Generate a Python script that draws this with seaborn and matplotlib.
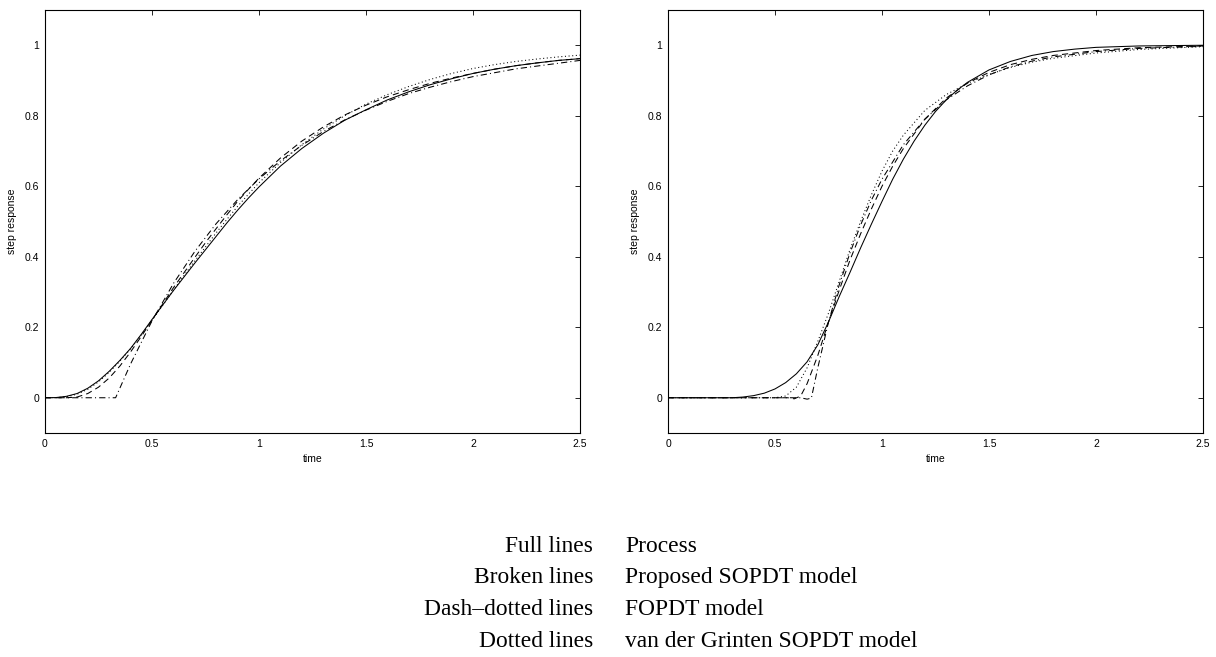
import numpy as np
import pandas as pd
import matplotlib
matplotlib.use("Agg")
import matplotlib.pyplot as plt
import seaborn as sns

# ---------------- data ----------------
# Left panel
t_left = [0, 0.05, 0.1, 0.15, 0.2, 0.25, 0.3, 0.35, 0.4, 0.45, 0.5, 0.55, 0.6, 0.65,
          0.7, 0.75, 0.8, 0.85, 0.9, 0.95, 1.0, 1.1, 1.2, 1.3, 1.4, 1.5, 1.6, 1.7,
          1.8, 1.9, 2.0, 2.1, 2.2, 2.3, 2.4, 2.5]
proc_left = [0, 0.0005, 0.004, 0.012, 0.027, 0.048, 0.075, 0.106, 0.14, 0.18, 0.222, 0.263,
             0.304, 0.343, 0.382, 0.42, 0.458, 0.496, 0.532, 0.566, 0.598, 0.657, 0.707,
             0.75, 0.787, 0.817, 0.845, 0.868, 0.888, 0.905, 0.92, 0.932, 0.942, 0.95,
             0.957, 0.962]
sopdt_left = [0, 0, 0, 0.002, 0.012, 0.03, 0.056, 0.09, 0.13, 0.174, 0.22, 0.266,
              0.312, 0.355, 0.398, 0.44, 0.48, 0.519, 0.557, 0.591, 0.623, 0.68, 0.728,
              0.768, 0.802, 0.83, 0.854, 0.874, 0.892, 0.907, 0.92, 0.932, 0.942, 0.95,
              0.957, 0.962]
t_fopdt_left = [0, 0.33, 0.4, 0.5, 0.6, 0.7, 0.8, 0.9, 1.0, 1.1, 1.2, 1.3, 1.4, 1.5,
                1.6, 1.7, 1.8, 1.9, 2.0, 2.2, 2.5]
fopdt_left = [0, 0, 0.096, 0.218, 0.324, 0.415, 0.494, 0.562, 0.621, 0.672, 0.716,
              0.755, 0.788, 0.816, 0.841, 0.863, 0.881, 0.897, 0.911, 0.933, 0.957]
vdg_left = [0, 0.0003, 0.003, 0.01, 0.024, 0.045, 0.072, 0.104, 0.139, 0.178, 0.22, 0.262,
            0.305, 0.347, 0.388, 0.428, 0.468, 0.506, 0.543, 0.577, 0.61, 0.667, 0.718,
            0.762, 0.8, 0.833, 0.86, 0.883, 0.903, 0.92, 0.934, 0.945, 0.954, 0.961,
            0.967, 0.972]

# Right panel
t_proc_right = [0, 0.3, 0.35, 0.4, 0.45, 0.5, 0.55, 0.6, 0.65, 0.7, 0.75, 0.8, 0.85, 0.9,
                0.95, 1.0, 1.05, 1.1, 1.15, 1.2, 1.25, 1.3, 1.35, 1.4, 1.5, 1.6, 1.7,
                1.8, 1.9, 2.0, 2.2, 2.5]
proc_right = [0, 0, 0.002, 0.006, 0.013, 0.025, 0.043, 0.068, 0.102, 0.15, 0.215, 0.287,
              0.355, 0.425, 0.492, 0.557, 0.62, 0.677, 0.728, 0.773, 0.812, 0.845, 0.872,
              0.895, 0.93, 0.954, 0.971, 0.982, 0.989, 0.994, 0.998, 1.0]
t_sopdt_right = [0, 0.56, 0.59, 0.62, 0.65, 0.7, 0.75, 0.8, 0.85, 0.9, 0.95, 1.0, 1.05,
                 1.1, 1.2, 1.3, 1.4, 1.5, 1.6, 1.7, 1.8, 2.0, 2.2, 2.5]
sopdt_right = [0, 0, -0.003, 0.005, 0.04, 0.12, 0.215, 0.305, 0.39, 0.465, 0.535, 0.6,
               0.657, 0.707, 0.79, 0.85, 0.893, 0.923, 0.945, 0.96, 0.971, 0.985,
               0.993, 0.998]
t_fopdt_right = [0, 0.62, 0.65, 0.67, 0.7, 0.75, 0.8, 0.85, 0.9, 0.95, 1.0, 1.1, 1.2,
                 1.3, 1.4, 1.5, 1.6, 1.7, 1.8, 2.0, 2.2, 2.5]
fopdt_right = [0, 0, -0.004, -0.001, 0.085, 0.215, 0.32, 0.41, 0.49, 0.56, 0.62, 0.718,
               0.79, 0.845, 0.885, 0.916, 0.939, 0.955, 0.967, 0.982, 0.991, 0.997]
t_vdg_right = [0, 0.5, 0.55, 0.6, 0.65, 0.7, 0.75, 0.8, 0.85, 0.9, 0.95, 1.0, 1.05, 1.1,
               1.2, 1.3, 1.4, 1.5, 1.6, 1.7, 1.8, 2.0, 2.2, 2.5]
vdg_right = [0, 0, 0.005, 0.03, 0.085, 0.16, 0.24, 0.33, 0.42, 0.5, 0.575, 0.643, 0.70,
             0.745, 0.815, 0.86, 0.892, 0.917, 0.937, 0.952, 0.963, 0.978, 0.988, 0.996]

x_ticks = [0, 0.5, 1, 1.5, 2, 2.5]
x_ticklabels = ["0", "0.5", "1", "1.5", "2", "2.5"]
y_ticks = [0, 0.2, 0.4, 0.6, 0.8, 1]
y_ticklabels = ["0", "0.2", "0.4", "0.6", "0.8", "1"]

legend_keys = ["Full lines", "Broken lines", "Dash\u2013dotted lines", "Dotted lines"]
legend_vals = ["Process", "Proposed SOPDT model", "FOPDT model", "van der Grinten SOPDT model"]

# ---------------- styling ----------------
sns.set_theme(style="white")
plt.rcParams["font.family"] = ["Liberation Sans", "DejaVu Sans"]

W, H = 1216, 657
fig = plt.figure(figsize=(W / 100, H / 100), dpi=100)
fig.patch.set_facecolor("white")

def fx(px):
    return px / W

def fy(py):
    return 1 - py / H

ax_l = fig.add_axes([fx(45), fy(433), fx(535), (433 - 10) / H])
ax_r = fig.add_axes([fx(668), fy(433), fx(535), (433 - 10) / H])

LW = 0.75
DASH = (0, (6, 4))
DASHDOT = (0, (6, 3, 1, 3))
DOT = (0, (1, 2.5))

panels = [
    (ax_l, [(t_left, proc_left, "-"), (t_left, sopdt_left, DASH),
            (t_fopdt_left, fopdt_left, DASHDOT), (t_left, vdg_left, DOT)]),
    (ax_r, [(t_proc_right, proc_right, "-"), (t_sopdt_right, sopdt_right, DASH),
            (t_fopdt_right, fopdt_right, DASHDOT), (t_vdg_right, vdg_right, DOT)]),
]

for ax, series in panels:
    ax.set_facecolor("white")
    for tx, yy, ls in series:
        df = pd.DataFrame({"t": tx, "y": yy})
        sns.lineplot(data=df, x="t", y="y", ax=ax, color="black", linewidth=LW,
                     linestyle=ls, estimator=None, sort=False)
    ax.set_xlim(0, 2.5)
    ax.set_ylim(-0.1, 1.1)
    ax.set_xticks(x_ticks)
    ax.set_xticklabels(x_ticklabels)
    ax.set_yticks(y_ticks)
    ax.set_yticklabels(y_ticklabels)
    ax.tick_params(direction="in", top=True, right=True, length=3.5, width=0.6,
                   labelsize=7.5, colors="black", pad=4)
    for sp in ax.spines.values():
        sp.set_visible(True)
        sp.set_color("black")
        sp.set_linewidth(0.8)
    ax.set_xlabel("time", fontsize=7.5, labelpad=4, color="black")
    ax.set_ylabel("step response", fontsize=7.5, labelpad=6, color="black")
    ax.grid(False)

# ---------------- legend-like caption ----------------
baselines = [551.5, 583.0, 615.0, 647.0]
for key, val, b in zip(legend_keys, legend_vals, baselines):
    fig.text(fx(593), fy(b), key, ha="right", va="baseline", fontsize=16.9,
             family=["Liberation Serif", "DejaVu Serif"], color="black")
    fig.text(fx(625), fy(b), val, ha="left", va="baseline", fontsize=16.9,
             family=["Liberation Serif", "DejaVu Serif"], color="black")

fig.savefig("out.png", dpi=100, facecolor="white")
